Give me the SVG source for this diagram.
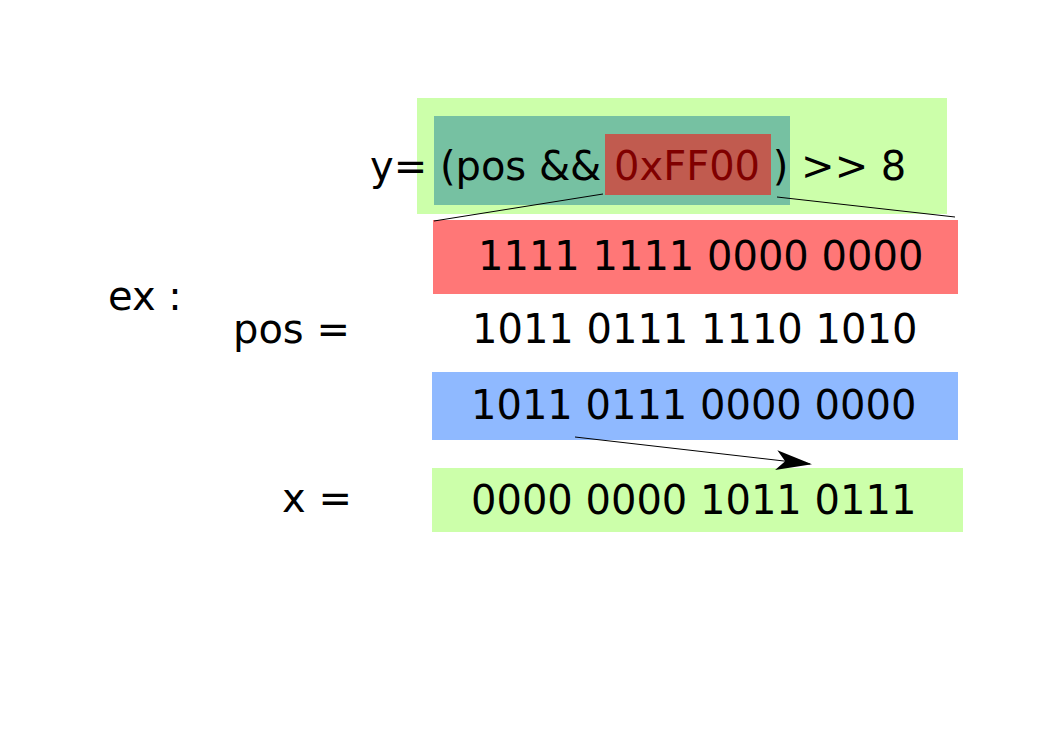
<svg xmlns="http://www.w3.org/2000/svg" width="1053" height="745" viewBox="0 0 1053 745">
<style>
text{font-family:"DejaVu Sans","Liberation Sans",sans-serif;font-size:40px;fill:#000}
.ln{stroke:#000;stroke-width:1;fill:none}
</style>
<defs>
<marker id="ah" viewBox="0 0 36 20" refX="34" refY="10" markerWidth="36" markerHeight="20" markerUnits="userSpaceOnUse" orient="auto">
<path d="M0,0 L36,10 L0,20 L9,10 Z" fill="#000"/>
</marker>
</defs>
<rect width="1053" height="745" fill="#fff"/>
<g id="expr">
<rect x="417" y="98" width="530" height="116" fill="#ccffaa"/>
<rect x="434" y="116" width="356" height="89" fill="#76c1a2"/>
<rect x="605" y="134" width="166" height="61" fill="#c15b4f"/>
<text x="370" y="180" xml:space="preserve">y= (pos &amp;&amp; <tspan fill="#800000">0xFF00</tspan> ) &gt;&gt; 8</text>
</g>
<g id="mask">
<rect x="433" y="220" width="525" height="74" fill="#ff7777"/>
<text x="478" y="270">1111 1111 0000 0000</text>
</g>
<g id="labels">
<text x="108" y="310">ex :</text>
<text x="233" y="343">pos =</text>
<text x="282" y="512">x =</text>
</g>
<g id="pos">
<text x="472" y="343">1011 0111 1110 1010</text>
</g>
<g id="and">
<rect x="432" y="372" width="526" height="68" fill="#8fb9ff"/>
<text x="471" y="419">1011 0111 0000 0000</text>
</g>
<g id="result">
<rect x="432" y="468" width="531" height="64" fill="#ccffaa"/>
<text x="471" y="514">0000 0000 1011 0111</text>
</g>
<g id="connectors">
<line class="ln" x1="603" y1="194" x2="434" y2="221"/>
<line class="ln" x1="777" y1="197" x2="955" y2="217"/>
<line class="ln" x1="575" y1="437" x2="810" y2="464" stroke-width="2" marker-end="url(#ah)"/>
</g>
</svg>
